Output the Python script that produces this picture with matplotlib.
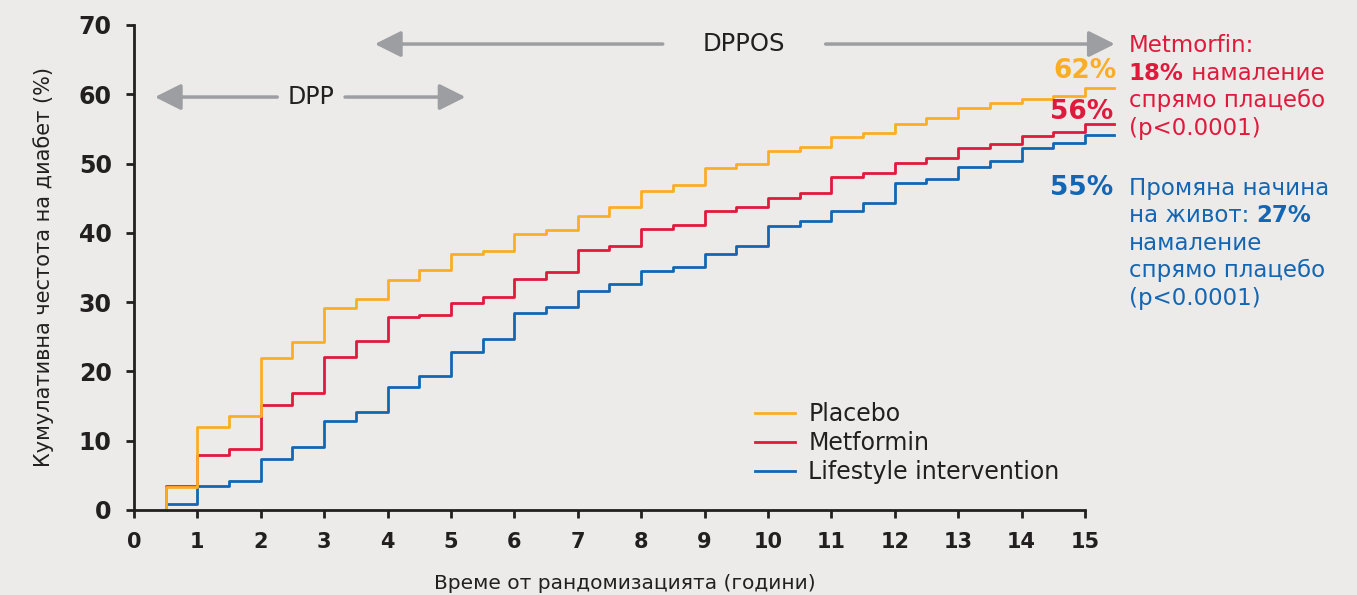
import matplotlib
matplotlib.use("Agg")
import matplotlib.pyplot as plt
import numpy as np
from matplotlib.patches import FancyArrowPatch

plt.rcParams['font.family'] = ['DejaVu Sans']

# step times (years) and cumulative incidence (%)
times = [0.5, 1.0, 1.5, 2.0, 2.5, 3.0, 3.5, 4.0, 4.5, 5.0, 5.5, 6.0, 6.5, 7.0, 7.5,
         8.0, 8.5, 9.0, 9.5, 10.0, 10.5, 11.0, 11.5, 12.0, 12.5, 13.0, 13.5, 14.0, 14.5, 15.0]
end_time = 15.45

placebo = [3.3, 12.0, 13.6, 22.0, 24.3, 29.1, 30.4, 33.2, 34.6, 36.9, 37.4, 39.8, 40.4, 42.5, 43.7,
           46.1, 46.9, 49.4, 50.0, 51.8, 52.4, 53.8, 54.4, 55.7, 56.6, 58.0, 58.7, 59.3, 59.7, 60.9]
metformin = [3.4, 8.0, 8.75, 15.15, 16.9, 22.1, 24.4, 27.8, 28.2, 29.9, 30.8, 33.3, 34.4, 37.5, 38.1,
             40.6, 41.2, 43.2, 43.7, 45.1, 45.8, 48.05, 48.6, 50.1, 50.75, 52.3, 52.8, 54.0, 54.6, 55.7]
lifestyle = [0.8, 3.45, 4.2, 7.35, 9.1, 12.9, 14.1, 17.7, 19.3, 22.8, 24.7, 28.4, 29.3, 31.6, 32.6,
             34.5, 35.0, 37.0, 38.1, 41.0, 41.75, 43.2, 44.3, 47.2, 47.8, 49.5, 50.4, 52.2, 52.9, 54.1]

series_names = ['Placebo', 'Metformin', 'Lifestyle intervention']
final_labels = ['62%', '56%', '55%']

c_orange = '#fbae25'
c_red = '#e01a3c'
c_blue = '#1366b3'
c_grey = '#9c9ea1'
c_axis = '#231f20'
bg = '#ecebe9'

fig = plt.figure(figsize=(13.57, 5.95), dpi=100, facecolor=bg)
ax = fig.add_axes([0.0987, 0.1429, 0.7242, 0.8151])
ax.set_facecolor(bg)

# draw in reverse so placebo on top like reference
for vals, name, col in [(lifestyle, series_names[2], c_blue),
                        (metformin, series_names[1], c_red),
                        (placebo, series_names[0], c_orange)]:
    xs = [times[0]] + times + [end_time]
    ys = [0] + vals + [vals[-1]]
    ax.plot(xs, ys, drawstyle='steps-post', color=col, lw=2.0, label=name, clip_on=False)

ax.set_xlim(0, 15.5)
ax.set_ylim(0, 70)
ax.set_xticks(range(0, 16))
ax.set_yticks(range(0, 71, 10))
for s in ['top', 'right']:
    ax.spines[s].set_visible(False)
for s in ['left', 'bottom']:
    ax.spines[s].set_color(c_axis)
    ax.spines[s].set_linewidth(2)
ax.spines['bottom'].set_bounds(0, 15)
ax.spines['left'].set_bounds(0, 70)
ax.tick_params(axis='both', direction='out', length=6, width=2, color=c_axis)
ax.tick_params(axis='y', pad=10, labelsize=17)
ax.tick_params(axis='x', pad=10, labelsize=15)
for lbl in ax.get_xticklabels() + ax.get_yticklabels():
    lbl.set_fontweight('bold')
    lbl.set_color(c_axis)

ax.set_ylabel('Кумулативна честота на диабет (%)', fontsize=15, color=c_axis, labelpad=18)
ax.set_xlabel('Време от рандомизацията (години)', fontsize=14.5, color=c_axis, labelpad=16)

# legend (order placebo, metformin, lifestyle)
h, l = ax.get_legend_handles_labels()
order = [2, 1, 0]
ax.legend([h[i] for i in order], [l[i] for i in order], loc='upper left',
          bbox_to_anchor=(0.632, 0.223), frameon=False, fontsize=17, borderpad=0,
          borderaxespad=0, handlelength=1.7, handletextpad=0.55, labelspacing=0.22,
          labelcolor=c_axis)

# study-period arrows
def span_arrow(x_left, x_right, x_gap0, x_gap1, y, text, size):
    for x0, x1 in [(x_gap0, x_left), (x_gap1, x_right)]:
        ar = FancyArrowPatch((x0, y), (x1, y), arrowstyle='-|>,head_length=1.0,head_width=0.5',
                             mutation_scale=16, color=c_grey, lw=2.5, clip_on=False,
                             shrinkA=0, shrinkB=0)
        ax.add_patch(ar)
    ax.text((x_gap0 + x_gap1) / 2, y, text, ha='center', va='center', fontsize=size, color=c_axis)

span_arrow(0.33, 5.23, 2.26, 3.33, 59.6, 'DPP', 17)
span_arrow(3.80, 15.47, 8.34, 10.91, 67.25, 'DPPOS', 17.5)

# final percentages
for lbl, col, xx, yy in [(final_labels[0], c_orange, 15.5, 62.3),
                         (final_labels[1], c_red, 15.45, 56.5),
                         (final_labels[2], c_blue, 15.45, 45.4)]:
    ax.text(xx, yy, lbl, ha='right', va='baseline', fontsize=19, fontweight='bold',
            color=col, clip_on=False)

# side notes
tx = 15.69
red_lines = [[('Metmorfin:', 'normal')],
             [('18%', 'bold'), (' намаление', 'normal')],
             [('спрямо плацебо', 'normal')],
             [('(p<0.0001)', 'normal')]]
blue_lines = [[('Промяна начина', 'normal')],
              [('на живот: ', 'normal'), ('27%', 'bold')],
              [('намаление', 'normal')],
              [('спрямо плацебо', 'normal')],
              [('(p<0.0001)', 'normal')]]

def text_block(lines, y0, col):
    step = 3.98
    for i, parts in enumerate(lines):
        y = y0 - i * step
        prev = None
        for txt, w in parts:
            if prev is None:
                prev = ax.text(tx, y, txt, ha='left', va='baseline', fontsize=16.5,
                               fontweight=w, color=col, clip_on=False)
            else:
                prev = ax.annotate(txt, xy=(1, 0), xycoords=prev, xytext=(0, 0),
                                   textcoords='offset points', ha='left', va='bottom',
                                   fontsize=16.5, fontweight=w, color=col, annotation_clip=False)

text_block(red_lines, 66.1, c_red)
text_block(blue_lines, 45.5, c_blue)

fig.savefig('out.png', dpi=100, facecolor=bg)
